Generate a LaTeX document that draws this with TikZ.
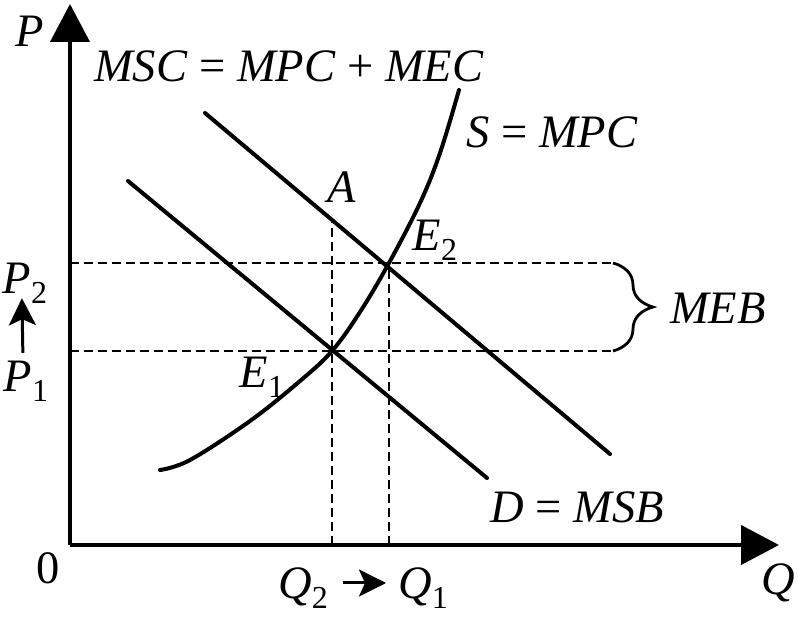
\documentclass[tikz,border=0pt]{standalone}
\usepackage{fontspec}
\setmainfont{Liberation Serif}
\usetikzlibrary{arrows.meta,decorations.pathreplacing,positioning}
\newcommand{\lowidx}[1]{\raisebox{-0.45ex}{\fontsize{32}{32}\selectfont #1}}

\begin{document}
\begin{tikzpicture}[x=1pt, y=-1pt, >={Triangle[width=39pt,length=38pt]},
        axis/.style={line width=4.2pt, ->},
        curve/.style={line width=4pt, line cap=round},
        guide/.style={line width=2.6pt, dash pattern=on 9pt off 5pt},
        lbl/.style={inner sep=0pt, font=\fontsize{46.5}{50}\selectfont},
        shift arrow/.style={line width=3pt, -{Stealth[width=27pt,length=27pt,inset=6pt]}}]
        \useasboundingbox (0,0) rectangle (807,620);
        % points
        \coordinate (O) at (70,545);
        \coordinate (yend) at (70,4);
        \coordinate (xend) at (779,545);
        \coordinate (e1) at (332,351);
        \coordinate (e2) at (389,263);
        \coordinate (a) at (332,220);
        \coordinate (bt) at (613,263);
        \coordinate (bb) at (613,351);
        % guides
        \draw[guide] (e1 |- O) -- (a);
        \draw[guide] (e2 |- O) -- (e2);
        \draw[guide] (O |- e2) -- (bt);
        \draw[guide] (O |- e1) -- (bb);
        \draw[line width=2.8pt, decorate, decoration={brace, amplitude=40pt}] (bt) -- (bb);
        % curves
        \draw[curve] (205,113) -- (610,454);
        \draw[curve] (128,181) -- (487,478);
        \draw[curve] plot[smooth, tension=0.6] coordinates {(160,470) (190,460) (250,421) (300,381) (e1) (360,312) (e2) (420,203) (440,153) (459,90)};
        % axes
        \draw[axis] (O) -- (yend);
        \draw[axis] (O) -- (xend);
        % labels
        \node[lbl] (P) at (30,31) {\textit{P}};
        \node[lbl] (Q) at (778,583) {\textit{Q}};
        \node[lbl] (zero) at (48,568) {0};
        \node[lbl] (msc) at (289,66) {\textit{MSC} = \textit{MPC} + \textit{MEC}};
        \node[lbl] (mpc) at (552,132) {\textit{S} = \textit{MPC}};
        \node[lbl] (msb) at (577,507) {\textit{D} = \textit{MSB}};
        \node[lbl] (A) at (342,187) {\textit{A}};
        \node[lbl] (E2) at (435,240) {\textit{E}\lowidx{2}};
        \node[lbl] (E1) at (262,377) {\textit{E}\lowidx{1}};
        \node[lbl] (meb) at (718,308) {\textit{MEB}};
        \node[lbl] (P2) at (25,283) {\textit{P}\lowidx{2}};
        \node[lbl] (P1) at (26,381) {\textit{P}\lowidx{1}};
        \draw[shift arrow, shorten <=8pt, shorten >=-5pt] ([xshift=-3pt]P1.north) -- ([xshift=-3pt]P2.south);
        \node[lbl] (Q2) at (303,588) {\textit{Q}\lowidx{2}};
        \node[lbl] (Q1) at (423,588) {\textit{Q}\lowidx{1}};
        \draw[shift arrow, shorten <=15pt, shorten >=12pt] ([yshift=5pt]Q2.east) -- ([yshift=5pt]Q1.west);
\end{tikzpicture}
\end{document}
